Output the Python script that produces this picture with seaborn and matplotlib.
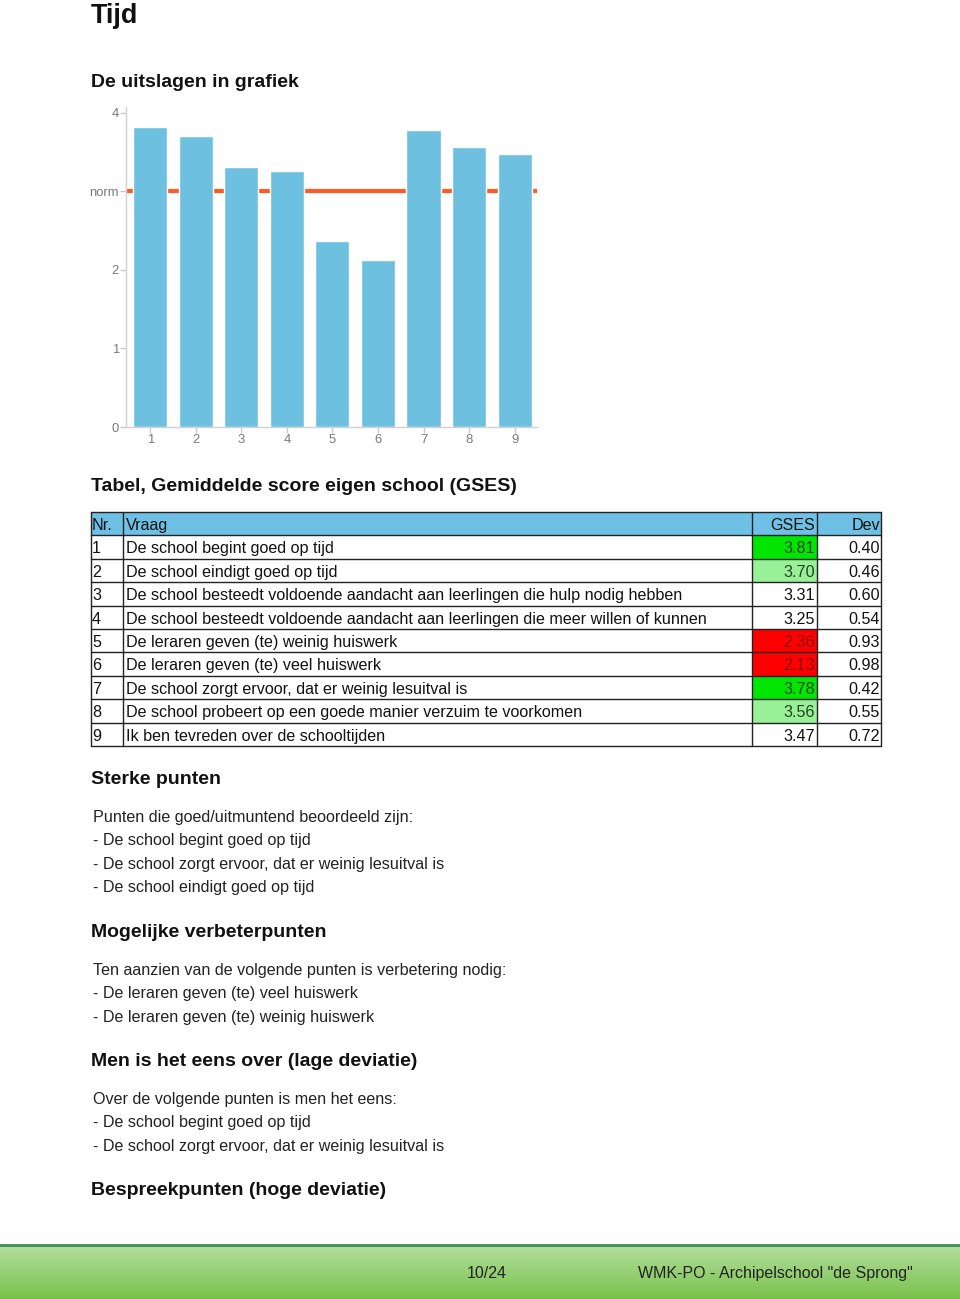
import matplotlib
matplotlib.use("Agg")
import matplotlib.pyplot as plt
import seaborn as sns
import pandas as pd
from matplotlib.patches import Rectangle
from matplotlib.colors import LinearSegmentedColormap
import numpy as np

# ---------------- data ----------------
question_nr = ["1", "2", "3", "4", "5", "6", "7", "8", "9"]
questions = [
    "De school begint goed op tijd",
    "De school eindigt goed op tijd",
    "De school besteedt voldoende aandacht aan leerlingen die hulp nodig hebben",
    "De school besteedt voldoende aandacht aan leerlingen die meer willen of kunnen",
    "De leraren geven (te) weinig huiswerk",
    "De leraren geven (te) veel huiswerk",
    "De school zorgt ervoor, dat er weinig lesuitval is",
    "De school probeert op een goede manier verzuim te voorkomen",
    "Ik ben tevreden over de schooltijden",
]
gses = [3.81, 3.70, 3.31, 3.25, 2.36, 2.13, 3.78, 3.56, 3.47]
dev = [0.40, 0.46, 0.60, 0.54, 0.93, 0.98, 0.42, 0.55, 0.72]
gses_class = ["high", "good", "none", "none", "low", "low", "high", "good", "none"]
norm_value = 3.0
y_ticks = [0, 1, 2, 3, 4]
y_tick_labels = ["0", "1", "2", "norm", "4"]
table_header = ["Nr.", "Vraag", "GSES", "Dev"]

sterke_intro = "Punten die goed/uitmuntend beoordeeld zijn:"
sterke = ["De school begint goed op tijd",
          "De school zorgt ervoor, dat er weinig lesuitval is",
          "De school eindigt goed op tijd"]
verbeter_intro = "Ten aanzien van de volgende punten is verbetering nodig:"
verbeter = ["De leraren geven (te) veel huiswerk",
            "De leraren geven (te) weinig huiswerk"]
eens_intro = "Over de volgende punten is men het eens:"
eens = ["De school begint goed op tijd",
        "De school zorgt ervoor, dat er weinig lesuitval is"]
page_label = "10/24"
footer_label = 'WMK-PO - Archipelschool "de Sprong"'

# ---------------- style ----------------
sns.set_style("white")
plt.rcParams["font.family"] = ["Liberation Sans", "DejaVu Sans"]

W, H = 960, 1299
fig = plt.figure(figsize=(W / 100, H / 100), dpi=100)

# overlay axes in pixel coords
ov = fig.add_axes([0, 0, 1, 1])
ov.set_xlim(0, W)
ov.set_ylim(H, 0)
ov.axis("off")

def pt(px):
    return px * 72 / 100

# ---------------- bar chart ----------------
ax_l, ax_r, ax_t, ax_b = 126, 537, 107, 427
ax = fig.add_axes([ax_l / W, 1 - ax_b / H, (ax_r - ax_l) / W, (ax_b - ax_t) / H])
df = pd.DataFrame({"nr": question_nr, "gses": gses})
sns.barplot(data=df, x="nr", y="gses", color="#6DC0E0", saturation=1,
            width=0.75, ax=ax, zorder=3)
ax.axhline(norm_value, color="#FF5A26", lw=3, zorder=2)
ax.set_ylim(0, 4.07)
ax.set_xlim(-0.53, 8.49)
ax.set_yticks(y_ticks)
ax.set_yticklabels(y_tick_labels)
ax.set_xlabel("")
ax.set_ylabel("")
for s in ["top", "right"]:
    ax.spines[s].set_visible(False)
for s in ["left", "bottom"]:
    ax.spines[s].set_color("#d0d0d0")
    ax.spines[s].set_linewidth(1)
ax.tick_params(axis="both", colors="#c8c8c8", labelcolor="#7a7a7a",
               labelsize=pt(13), length=4, width=1, pad=1, left=True, bottom=True)
ax.grid(False)

# ---------------- headings & text ----------------
ov.text(91, 23, "Tijd", fontsize=pt(27), fontweight="bold", va="baseline", ha="left", color="#111111")
hfs = pt(19.5)
def heading(y, s):
    ov.text(91, y + 7, s, fontsize=hfs, fontweight="bold", va="baseline", ha="left", color="#111111")

heading(80, "De uitslagen in grafiek")
heading(484, "Tabel, Gemiddelde score eigen school (GSES)")

# ---------------- table ----------------
col_x = [91, 123, 752, 817, 881]
row_top = 512
row_h = 23.4
header_color = "#6EC1E4"
cls_color = {"high": "#00E600", "good": "#99F099", "low": "#FF0000", "none": "#FFFFFF"}
cls_text = {"high": "#114411", "good": "#224422", "low": "#8A0000", "none": "#111111"}
tfs = pt(16.1)

n_rows = len(questions) + 1
ov.add_patch(Rectangle((col_x[0], row_top), col_x[-1] - col_x[0], row_h,
                       facecolor=header_color, edgecolor="none", zorder=1))

def row_text(y0, cells, gcolor):
    yb = y0 + row_h - 5.5
    ov.text(col_x[0] + 1, yb, cells[0], fontsize=tfs, va="baseline", ha="left", color="#111111", zorder=3)
    ov.text(col_x[1] + 3, yb, cells[1], fontsize=tfs, va="baseline", ha="left", color="#111111", zorder=3)
    ov.text(col_x[3] - 2, yb, cells[2], fontsize=tfs, va="baseline", ha="right", color=gcolor, zorder=3)
    ov.text(col_x[4] - 1, yb, cells[3], fontsize=tfs, va="baseline", ha="right", color="#111111", zorder=3)

row_text(row_top, table_header, "#111111")
for i, (q_nr, q, g, d, c) in enumerate(zip(question_nr, questions, gses, dev, gses_class)):
    y0 = row_top + (i + 1) * row_h
    if c != "none":
        ov.add_patch(Rectangle((col_x[2], y0), col_x[3] - col_x[2], row_h,
                               facecolor=cls_color[c], edgecolor="none", zorder=1))
    row_text(y0, [q_nr, q, f"{g:.2f}", f"{d:.2f}"], cls_text[c])

for r in range(n_rows + 1):
    y = row_top + r * row_h
    ov.plot([col_x[0], col_x[-1]], [y, y], color="#222222", lw=1, zorder=2)
for x in col_x:
    ov.plot([x, x], [row_top, row_top + n_rows * row_h], color="#222222", lw=1, zorder=2)

# ---------------- lists ----------------
bfs = pt(16.1)
def body(y, s):
    ov.text(93, y + 6, s, fontsize=bfs, va="baseline", ha="left", color="#222222")

line_h = 23.4
heading(777, "Sterke punten")
body(816, sterke_intro)
for k, s in enumerate(sterke):
    body(816 + (k + 1) * line_h, "- " + s)

heading(930, "Mogelijke verbeterpunten")
body(969, verbeter_intro)
for k, s in enumerate(verbeter):
    body(969 + (k + 1) * line_h, "- " + s)

heading(1059, "Men is het eens over (lage deviatie)")
body(1098, eens_intro)
for k, s in enumerate(eens):
    body(1098 + (k + 1) * line_h, "- " + s)

heading(1188, "Bespreekpunten (hoge deviatie)")

# ---------------- footer ----------------
grad = np.linspace(0, 1, 100).reshape(-1, 1)
cmap = LinearSegmentedColormap.from_list("f", ["#B4DE9E", "#79C24C"])
ov.imshow(grad, cmap=cmap, aspect="auto", extent=(0, W, H, 1245), zorder=0)
ov.plot([0, W], [1245, 1245], color="#3C8C5A", lw=2, zorder=1)
ov.set_xlim(0, W)
ov.set_ylim(H, 0)
ov.text(487, 1278, page_label, fontsize=pt(16), va="baseline", ha="center", color="#222222")
ov.text(913, 1278, footer_label, fontsize=pt(16), va="baseline", ha="right", color="#222222")

fig.savefig("out.png", dpi=100)
